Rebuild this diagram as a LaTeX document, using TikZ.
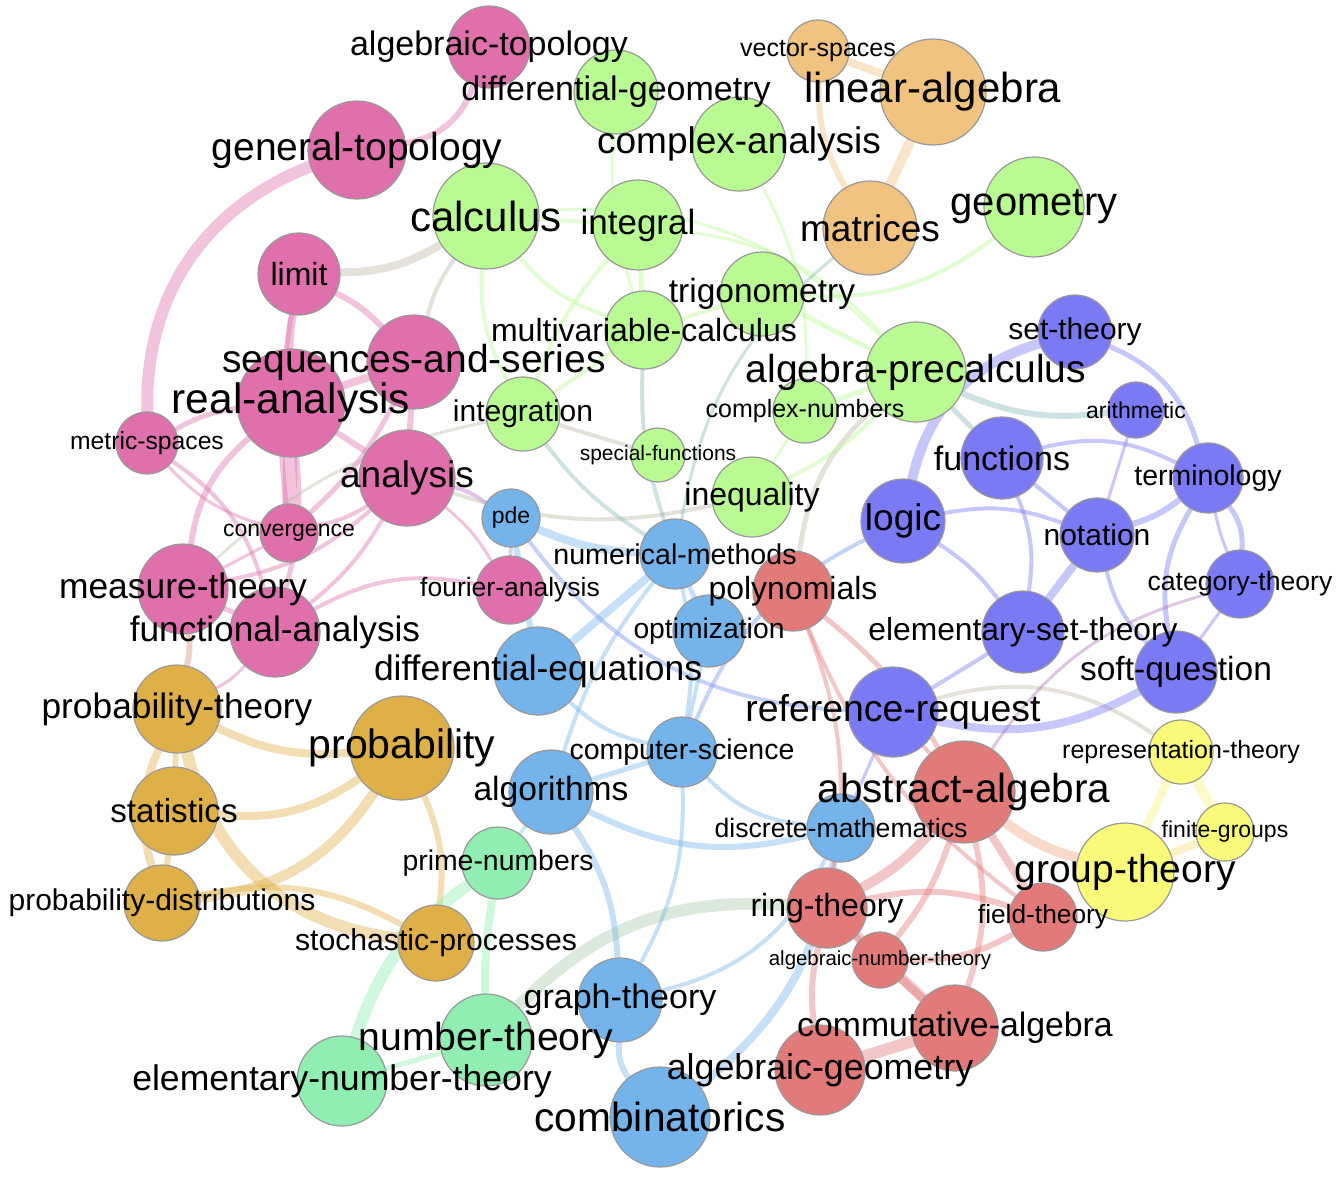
\documentclass[tikz,border=0pt]{standalone}
\usepackage{fontspec}
\setmainfont{Liberation Sans}
\usetikzlibrary{backgrounds}

\definecolor{pinkc}{RGB}{224,112,172}
\definecolor{greenc}{RGB}{185,250,146}
\definecolor{orangec}{RGB}{240,196,128}
\definecolor{purplec}{RGB}{122,122,245}
\definecolor{bluec}{RGB}{116,180,235}
\definecolor{redc}{RGB}{227,122,122}
\definecolor{goldc}{RGB}{223,176,72}
\definecolor{mintc}{RGB}{144,238,178}
\definecolor{yellowc}{RGB}{250,250,122}
\definecolor{greyc}{RGB}{190,185,170}
\definecolor{tealc}{RGB}{140,185,185}

\tikzset{
  topic/.style={circle, draw=black!40, line width=1.2pt, inner sep=0pt},
  tag/.style={font=\fontsize{#1}{#1}\selectfont, inner sep=0pt},
  link/.style={draw opacity=.42, line cap=round},
}

\begin{document}
\begin{tikzpicture}[x=1pt, y=-1pt]
\useasboundingbox (0,0) rectangle (1337,1184);

% topics: name/x/y/radius/colour
\foreach \n/\x/\y/\r/\c in {
  atop/489/47/41/pinkc, dgeo/616/92/42/greenc, vsp/818/51/31/orangec,
  linalg/933/92/53/orangec, canal/739/144/47/greenc, gtop/357/150/49/pinkc,
  calc/486/216/53/greenc, integral/638/225/45/greenc, matrices/870/228/47/orangec,
  geometry/1034/207/50/greenc, limit/299/274/41/pinkc, trig/762/294/42/greenc,
  mvc/644/330/39/greenc, seqser/414/362/47/pinkc, realan/291/403/54/pinkc,
  algpre/916/372/50/greenc, settheory/1075/332/37/purplec, integration/523/414/37/greenc,
  cnum/805/411/32/greenc, arith/1136/410/28/purplec, mspace/147/443/31/pinkc,
  analysis/407/478/48/pinkc, sfun/658/455/27/greenc, functions/1002/458/41/purplec,
  termin/1208/478/35/purplec, ineq/752/497/40/greenc, logic/903/521/42/purplec,
  pde/511/518/29/bluec, conv/289/533/29/pinkc, notation/1097/535/37/purplec,
  nummeth/675/554/35/bluec, poly/793/591/40/redc, fourier/510/590/34/pinkc,
  measure/183/589/45/pinkc, cat/1240/584/34/purplec, optim/709/631/36/bluec,
  est/1023/632/41/purplec, funcan/275/632/45/pinkc, diffeq/538/671/44/bluec,
  softq/1176/672/41/purplec, probth/177/709/44/goldc, refreq/893/712/45/purplec,
  prob/402/748/52/goldc, compsci/682/752/35/bluec, rept/1181/752/32/yellowc,
  algo/551/792/42/bluec, absalg/964/792/51/redc, stats/174/811/44/goldc,
  dmath/841/828/34/bluec, fgroups/1225/832/29/yellowc, primes/498/863/36/mintc,
  grpth/1125/872/49/yellowc, pdist/162/903/38/goldc, ring/827/908/40/redc,
  field/1043/917/34/redc, stoch/436/943/38/goldc, ant/880/960/28/redc,
  graph/620/1000/42/bluec, comm/955/1028/43/redc, nth/486/1040/46/mintc,
  ent/342/1081/45/mintc, ageo/820/1070/45/redc, comb/660/1117/50/bluec}
  \node[topic, fill=\c, minimum size=\r*2pt] (\n) at (\x,\y) {};

% links
\begin{scope}[on background layer]
\path[link, draw=pinkc]
  (atop) edge[line width=6pt, bend left=30] (gtop)
  (gtop) edge[line width=12pt, bend right=35] (mspace)
  (limit) edge[line width=8pt, bend right=5] (realan)
  (limit) edge[line width=5pt, bend right=8] (conv)
  (limit) edge[line width=6pt, bend left=10] (seqser)
  (realan) edge[line width=14pt] (conv)
  (realan) edge[line width=5pt, bend right=10] (mspace)
  (realan) edge[line width=6pt, bend right=20] (measure)
  (realan) edge[line width=5pt, bend left=10] (funcan)
  (realan) edge[line width=8pt] (seqser)
  (realan) edge[line width=6pt] (analysis)
  (seqser) edge[line width=5pt, bend left=10] (conv)
  (seqser) edge[line width=6pt] (analysis)
  (analysis) edge[line width=4pt, bend left=10] (conv)
  (analysis) edge[line width=4pt, bend left=15] (measure)
  (analysis) edge[line width=4pt, bend left=10] (funcan)
  (analysis) edge[line width=3pt, bend left=10] (fourier)
  (mspace) edge[line width=4pt, bend left=20] (funcan)
  (mspace) edge[line width=3pt, bend right=15] (conv)
  (funcan) edge[line width=4pt, bend left=20] (fourier)
  (measure) edge[line width=5pt] (funcan)
  (conv) edge[line width=3pt] (measure)
  (funcan) edge[line width=3pt, bend left=10] (probth)
  (measure) edge[line width=6pt, draw=pinkc!50!goldc, bend left=10] (probth)
  (pde) edge[line width=4pt, draw=pinkc!50!purplec, bend right=10] (analysis)
  (pde) edge[line width=4pt, draw=pinkc!50!bluec] (fourier);
\path[link, draw=greyc]
  (limit) edge[line width=8pt, bend right=15] (calc)
  (seqser) edge[line width=4pt, bend left=10] (calc)
  (integration) edge[line width=3pt, bend right=15] (measure)
  (analysis) edge[line width=4pt, bend right=15] (ineq)
  (integration) edge[line width=4pt] (sfun)
  (algpre) edge[line width=5pt, bend right=20] (poly)
  (refreq) edge[line width=4pt, bend left=25] (rept)
  (nth) edge[line width=12pt, draw=greyc!60!mintc, bend left=25] (ring);
\path[link, draw=goldc]
  (probth) edge[line width=8pt, bend right=15] (prob)
  (probth) edge[line width=6pt] (stats)
  (probth) edge[line width=8pt, bend right=20] (pdist)
  (probth) edge[line width=12pt, bend right=35] (stoch)
  (stats) edge[line width=8pt, bend right=20] (prob)
  (stats) edge[line width=6pt] (pdist)
  (prob) edge[line width=10pt, bend left=25] (pdist)
  (prob) edge[line width=6pt, bend left=15] (stoch)
  (pdist) edge[line width=6pt, bend left=20] (stoch);
\path[link, draw=mintc]
  (ent) edge[line width=12pt, bend left=18] (primes)
  (nth) edge[line width=8pt, bend left=5] (primes)
  (nth) edge[line width=5pt] (ent)
  (primes) edge[line width=4pt, draw=mintc!50!bluec] (algo);
\path[link, draw=greenc]
  (calc) edge[line width=4pt] (integral)
  (calc) edge[line width=4pt, bend right=15] (mvc)
  (calc) edge[line width=4pt, bend right=15] (integration)
  (calc) edge[line width=3pt, bend left=25] (algpre)
  (integral) edge[line width=4pt, bend right=10] (integration)
  (integral) edge[line width=5pt] (mvc)
  (integral) edge[line width=3pt, bend left=20] (algpre)
  (canal) edge[line width=3pt, bend left=15] (cnum)
  (dgeo) edge[line width=3pt, bend right=10] (mvc)
  (trig) edge[line width=5pt] (algpre)
  (trig) edge[line width=4pt, bend right=20] (geometry)
  (trig) edge[line width=4pt] (mvc)
  (algpre) edge[line width=5pt] (cnum)
  (algpre) edge[line width=4pt, bend left=10] (ineq)
  (cnum) edge[line width=3pt] (ineq)
  (mvc) edge[line width=4pt] (integration)
  (mvc) edge[line width=4pt, draw=tealc, bend right=10] (nummeth)
  (integration) edge[line width=4pt, draw=tealc, bend right=10] (nummeth)
  (matrices) edge[line width=3pt, draw=tealc, bend right=20] (nummeth);
\path[link, draw=orangec]
  (matrices) edge[line width=10pt] (linalg)
  (vsp) edge[line width=8pt] (linalg)
  (vsp) edge[line width=6pt, bend right=15] (matrices);
\path[link, draw=purplec]
  (settheory) edge[line width=10pt, bend right=30] (logic)
  (settheory) edge[line width=5pt, bend left=25] (termin)
  (algpre) edge[line width=6pt, draw=tealc, bend right=15] (arith)
  (algpre) edge[line width=5pt, draw=tealc] (functions)
  (functions) edge[line width=4pt, bend left=20] (termin)
  (functions) edge[line width=4pt] (notation)
  (functions) edge[line width=4pt, bend left=15] (est)
  (logic) edge[line width=4pt, bend left=15] (notation)
  (logic) edge[line width=4pt, bend left=10] (est)
  (notation) edge[line width=6pt, bend right=10] (termin)
  (notation) edge[line width=8pt] (est)
  (notation) edge[line width=4pt, bend right=15] (softq)
  (arith) edge[line width=3pt] (notation)
  (termin) edge[line width=5pt, bend left=20] (cat)
  (termin) edge[line width=3pt, bend right=5] (cat)
  (termin) edge[line width=5pt, bend right=20] (softq)
  (cat) edge[line width=3pt] (softq)
  (est) edge[line width=4pt] (refreq)
  (softq) edge[line width=8pt, bend left=20] (refreq)
  (refreq) edge[line width=3pt] (dmath)
  (pde) edge[line width=4pt, draw=purplec!60!bluec, bend right=25] (refreq)
  (logic) edge[line width=4pt, draw=bluec!50!purplec, bend right=20] (compsci)
  (cat) edge[line width=3pt, draw=redc!50!purplec, bend right=20] (absalg);
\path[link, draw=bluec]
  (pde) edge[line width=6pt] (diffeq)
  (pde) edge[line width=8pt, bend right=10] (nummeth)
  (nummeth) edge[line width=8pt] (diffeq)
  (nummeth) edge[line width=5pt] (optim)
  (nummeth) edge[line width=4pt, bend right=10] (algo)
  (nummeth) edge[line width=4pt, bend left=10] (compsci)
  (optim) edge[line width=4pt] (compsci)
  (diffeq) edge[line width=4pt, bend right=15] (compsci)
  (algo) edge[line width=5pt] (compsci)
  (algo) edge[line width=6pt, bend right=20] (dmath)
  (algo) edge[line width=6pt, bend left=15] (graph)
  (compsci) edge[line width=4pt, bend left=15] (graph)
  (compsci) edge[line width=4pt, bend right=20] (dmath)
  (graph) edge[line width=6pt, bend right=20] (comb)
  (comb) edge[line width=8pt, bend right=20] (dmath)
  (graph) edge[line width=4pt, bend right=25] (dmath);
\path[link, draw=redc]
  (poly) edge[line width=5pt, bend left=10] (absalg)
  (poly) edge[line width=4pt, bend left=15] (ring)
  (poly) edge[line width=4pt, bend right=15] (field)
  (absalg) edge[line width=10pt, bend left=10] (ring)
  (absalg) edge[line width=8pt] (field)
  (absalg) edge[line width=6pt, bend left=15] (comm)
  (absalg) edge[line width=6pt, bend left=10] (ant)
  (absalg) edge[line width=10pt, draw=orangec!60!redc, bend right=10] (grpth)
  (refreq) edge[line width=4pt] (absalg)
  (ring) edge[line width=10pt] (comm)
  (ring) edge[line width=6pt, bend left=15] (field)
  (ant) edge[line width=6pt, bend right=15] (field)
  (ant) edge[line width=8pt] (comm)
  (ring) edge[line width=6pt] (ant)
  (comm) edge[line width=12pt] (ageo)
  (ring) edge[line width=6pt, bend right=10] (ageo);
\path[link, draw=yellowc!85!orangec]
  (rept) edge[line width=10pt] (fgroups)
  (rept) edge[line width=8pt] (grpth)
  (grpth) edge[line width=8pt, draw=yellowc!50!orangec] (fgroups);
\end{scope}

% labels
\foreach \n/\fs/\txt in {
  atop/34/algebraic-topology, dgeo/34/differential-geometry, vsp/25/vector-spaces,
  linalg/42/linear-algebra, canal/37/complex-analysis, gtop/39/general-topology,
  calc/42/calculus, integral/35/integral, matrices/37/matrices, geometry/40/geometry,
  limit/32/limit, trig/33.5/trigonometry, mvc/32/multivariable-calculus,
  seqser/39/sequences-and-series, realan/42.5/real-analysis, algpre/39/algebra-precalculus,
  settheory/30/set-theory, integration/30/integration, cnum/25/complex-numbers,
  arith/23/arithmetic, mspace/24.7/metric-spaces, analysis/37/analysis,
  sfun/21/special-functions, functions/34/functions, termin/28.5/terminology,
  ineq/32/inequality, logic/37/logic, pde/23/pde, conv/23/convergence,
  notation/30/notation, nummeth/28.6/numerical-methods, poly/32/polynomials,
  fourier/26.5/fourier-analysis, measure/35.4/measure-theory, cat/26.6/category-theory,
  optim/28.3/optimization, est/31.8/elementary-set-theory, funcan/35.3/functional-analysis,
  diffeq/35.4/differential-equations, softq/33.5/soft-question, probth/35.3/probability-theory,
  refreq/37.4/reference-request, prob/41/probability, compsci/28.5/computer-science,
  rept/25/representation-theory, algo/33.6/algorithms, absalg/40.5/abstract-algebra,
  stats/33.2/statistics, dmath/26.6/discrete-mathematics, fgroups/23/finite-groups,
  primes/28.4/prime-numbers, grpth/39/group-theory, pdist/30/probability-distributions,
  ring/32/ring-theory, field/26.3/field-theory, stoch/30.2/stochastic-processes,
  ant/20.4/algebraic-number-theory, graph/34/graph-theory, comm/33.8/commutative-algebra,
  nth/39.2/number-theory, ent/35.6/elementary-number-theory, ageo/35.8/algebraic-geometry,
  comb/40.7/combinatorics}
  \node[tag=\fs] at (\n) {\txt};
\end{tikzpicture}
\end{document}
